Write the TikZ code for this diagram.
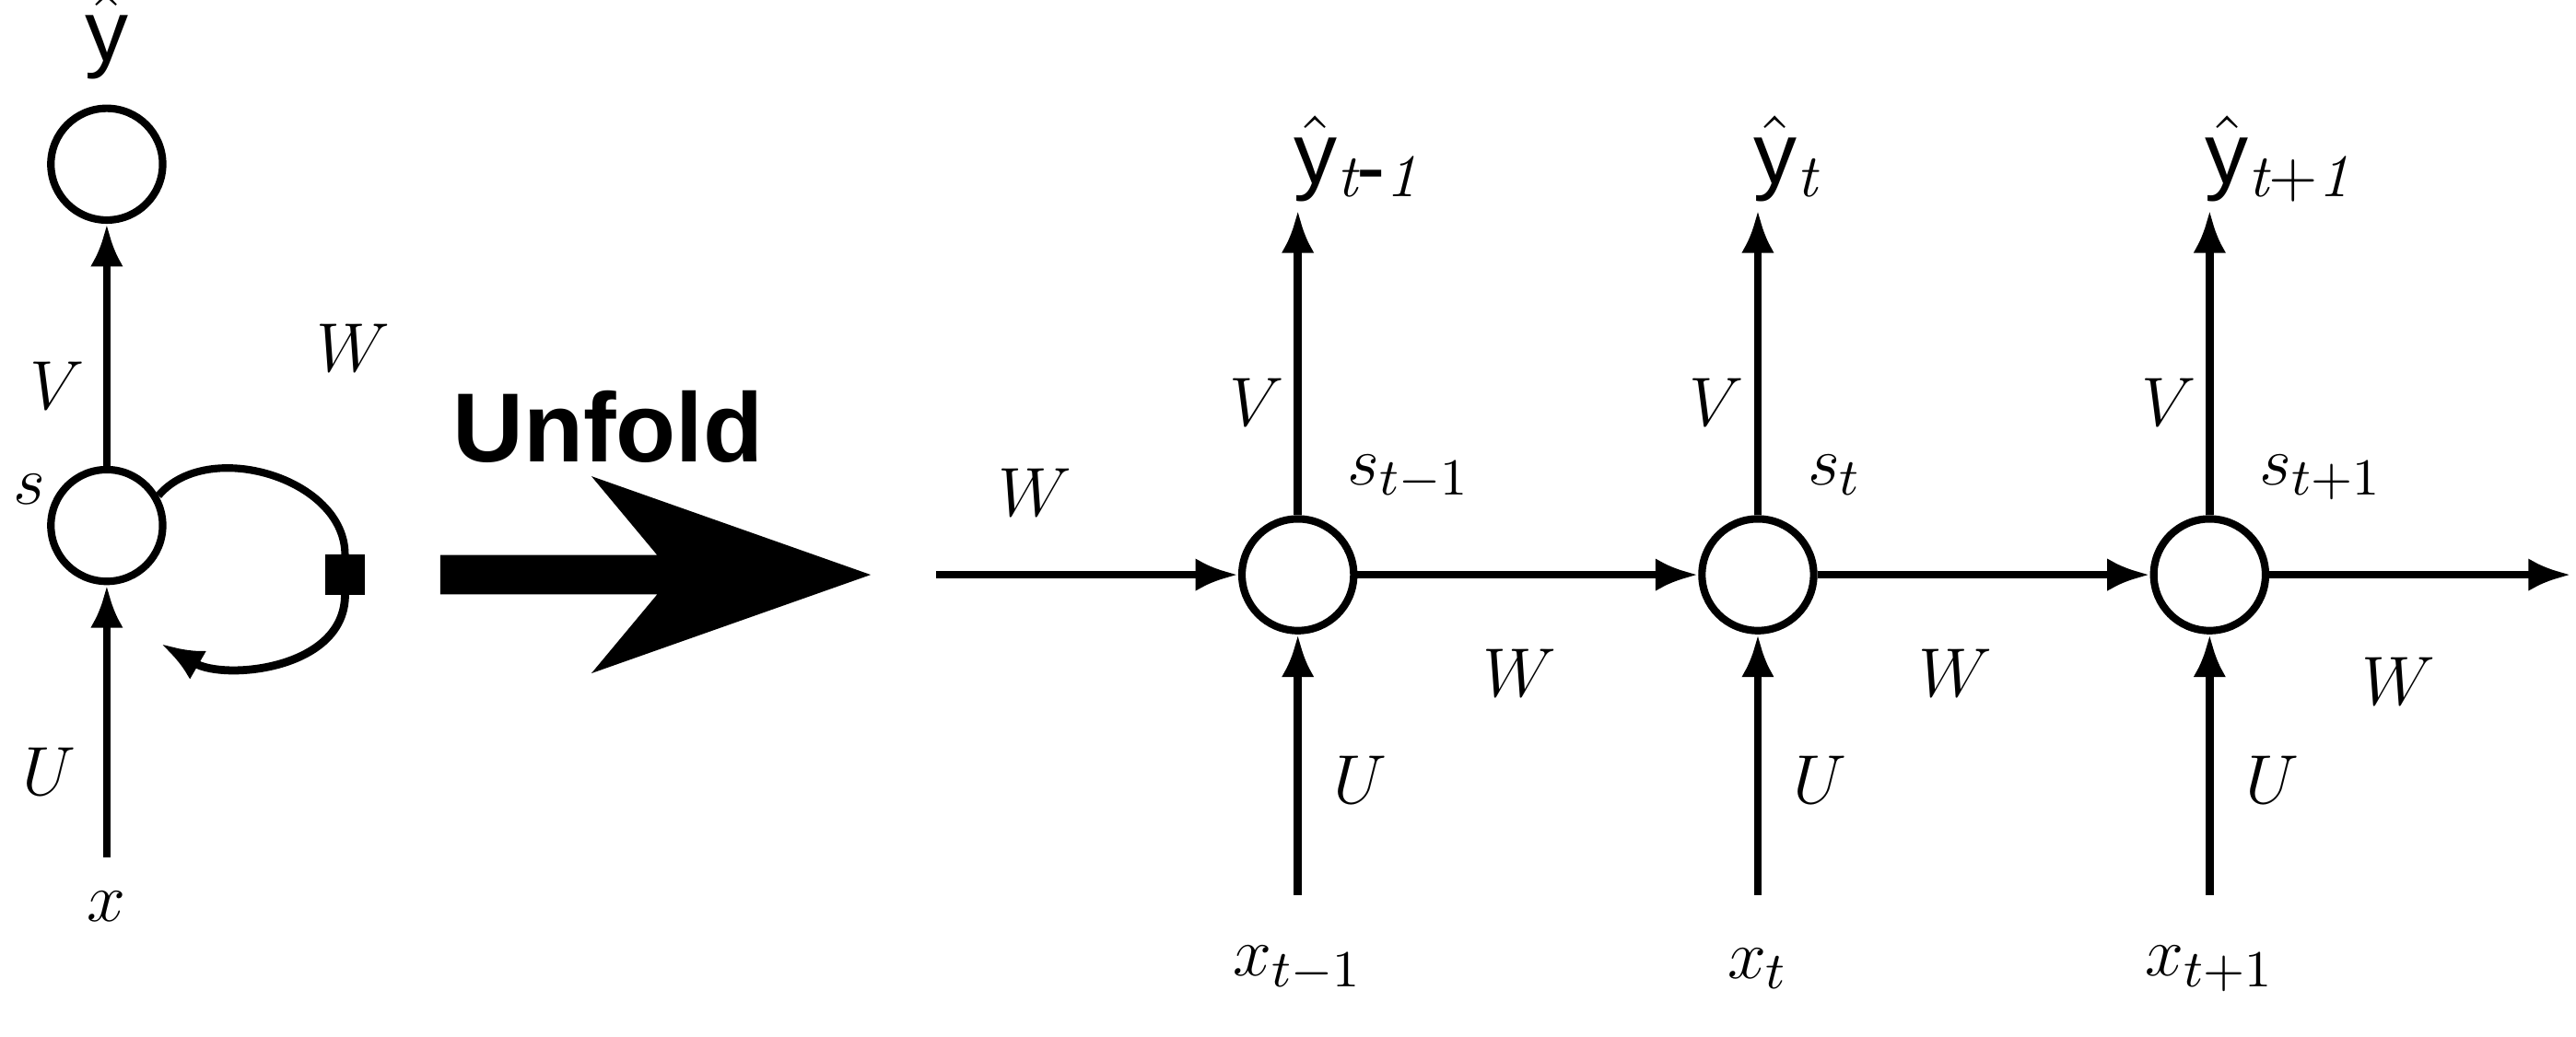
\documentclass[tikz,border=0pt]{standalone}
\usepackage{fontspec}
\setsansfont{Liberation Sans}
\usetikzlibrary{positioning,arrows.meta}

\begin{document}
\begin{tikzpicture}[x=0.01cm,y=-0.01cm,
    cell/.style={draw,circle,line width=1.3pt,minimum size=0.68cm,inner sep=0pt},
    flow/.style={-{Latex[length=0.26cm,width=0.2cm]},line width=1.4pt},
    lbl/.style={font=\fontsize{13}{13}\selectfont},
    yhat/.style={font=\sffamily\fontsize{15}{15}\selectfont}]
    \useasboundingbox (0,0) rectangle (1568,631);
    % folded network
    \node[cell] (o) at (65,100) {};
    \node[cell] (s) at (65,320) {};
    \node[cell,fill=black,rectangle,minimum size=0.2cm] (sq) at (210,350) {};
    \coordinate (x_in) at (65,522);
    \coordinate (loop_end) at (98,392);
    \node[yhat] (yh) at (65,22) {$\hat{\mathsf{y}}$};
    \node[lbl] (x) at (65,552) {$x$};
    \draw[flow] (s) -- (o);
    \draw[flow] (x_in) -- (s);
    \draw[line width=1.3pt] (s.30) to[out=50,in=90] (sq.north);
    \draw[flow] (sq.south) to[out=-90,in=-30] (loop_end);
    \node[lbl] at (35,235) {$V$};
    \node[lbl] at (30,470) {$U$};
    \node[lbl] at (215,212) {$W$};
    \node[lbl] at (18,298) {$s$};
    % unfold arrow
    \node[font=\sffamily\bfseries\fontsize{17}{17}\selectfont] (unfold) at (370,260) {Unfold};
    \fill (268,338) -- (400,338) -- (360,290) -- (530,350) -- (360,410) -- (400,362) -- (268,362) -- cycle;
    % unfolded network
    \coordinate (w_in) at (570,350);
    \coordinate (w_out) at (1565,350);
    \foreach \n/\xx/\sub/\ysub in {a/790/{t-1}/{t\mbox{-}1},b/1070/t/t,c/1345/{t+1}/{t+1}}{
        \node[cell] (s_\n) at (\xx,350) {};
        \coordinate (o_\n) at (\xx,128);
        \coordinate (i_\n) at (\xx,545);
        \draw[flow] (s_\n) -- (o_\n);
        \draw[flow] (i_\n) -- (s_\n);
        \node[yhat,anchor=base west] at (\xx-15,112) {$\hat{\mathsf{y}}_{\mathsf{\mathit{\ysub}}}$};
        \node[lbl] at (\xx-25,245) {$V$};
        \node[lbl] at (\xx+38,475) {$U$};
        \node[lbl,anchor=base west] at (\xx+18,295) {$s_{\sub}$};
        \node[lbl] at (\xx,590) {$x_{\sub}$};
    }
    \draw[flow] (w_in) -- (s_a);
    \draw[flow] (s_a) -- (s_b);
    \draw[flow] (s_b) -- (s_c);
    \draw[flow] (s_c) -- (w_out);
    \node[lbl] at (630,300) {$W$};
    \node[lbl] at (925,410) {$W$};
    \node[lbl] at (1190,410) {$W$};
    \node[lbl] at (1460,415) {$W$};
\end{tikzpicture}
\end{document}
